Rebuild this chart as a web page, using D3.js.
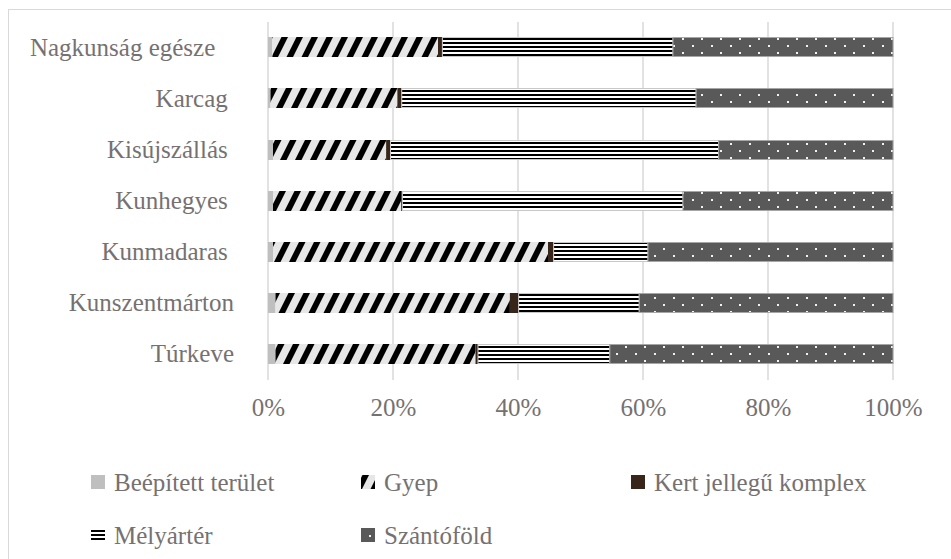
<!DOCTYPE html>
<html><head><meta charset="utf-8">
<script src="https://cdn.jsdelivr.net/npm/d3@7/dist/d3.min.js"></script>
<style>
html,body{margin:0;padding:0;background:#fff;}
text{font-family:"Liberation Serif","Times New Roman",serif;fill:#767171;}
</style></head>
<body><svg id="chart" width="951" height="559"></svg>
<script>
const categories = ["Nagkunság egésze\u00a0\u00a0\u00a0","Karcag\u00a0","Kisújszállás\u00a0","Kunhegyes\u00a0","Kunmadaras\u00a0","Kunszentmárton","Túrkeve"];
const seriesNames = ["Beépített terület","Gyep","Kert jellegű komplex","Mélyártér","Szántóföld"];
const beepitett = [0.7, 0.4, 0.8, 0.8, 0.8, 1.2, 1.2];
const gyep      = [26.5, 20.3, 18.1, 20.5, 44.0, 37.5, 32.0];
const kert      = [0.7, 0.7, 0.7, 0.2, 0.9, 1.4, 0.4];
const melyarter = [36.9, 47.1, 52.5, 44.9, 15.1, 19.3, 21.1];
const szanto    = [35.2, 31.5, 27.9, 33.6, 39.2, 40.6, 45.3];
const tickValues = [0, 0.2, 0.4, 0.6, 0.8, 1];

const svg = d3.select("#chart");
const W = 951, H = 559;
const m = {left: 268, right: 58, top: 22, bottom: 179};

// border
svg.append("rect").attr("x", 8.5).attr("y", 9.5).attr("width", 980).attr("height", 580)
  .attr("fill", "#fff").attr("stroke", "#d9d9d9").attr("stroke-width", 1);

// patterns
const defs = svg.append("defs");
const pg = defs.append("pattern").attr("id", "pGyep").attr("patternUnits", "userSpaceOnUse")
  .attr("width", 15).attr("height", 30);
pg.append("rect").attr("width", 15).attr("height", 30).attr("fill", "#e7e7e7");
[-15, 0, 15].forEach(o => {
  pg.append("polygon").attr("points", `${o},30 ${o+6.5},30 ${o+21.5},0 ${o+15},0`).attr("fill", "#000");
});
const pm = defs.append("pattern").attr("id", "pMely").attr("patternUnits", "userSpaceOnUse")
  .attr("width", 10).attr("height", 4).attr("y", 0);
pm.append("rect").attr("width", 10).attr("height", 4).attr("fill", "#fff");
pm.append("rect").attr("y", 2).attr("width", 10).attr("height", 2).attr("fill", "#000");
const ps = defs.append("pattern").attr("id", "pSzanto").attr("patternUnits", "userSpaceOnUse")
  .attr("width", 19).attr("height", 14).attr("x", 5).attr("y", 1);
ps.append("rect").attr("width", 19).attr("height", 14).attr("fill", "#595959");
ps.append("rect").attr("x", 3).attr("y", 2).attr("width", 2).attr("height", 2).attr("fill", "#f2f2f2");
ps.append("rect").attr("x", 12).attr("y", 9).attr("width", 2).attr("height", 2).attr("fill", "#f2f2f2");

const fills = ["#bfbfbf", "url(#pGyep)", "#372619", "url(#pMely)", "url(#pSzanto)"];
const strokes = ["none", "none", "none", "#c8c8c8", "#a6a6a6"];

const table = categories.map((c, i) => ({
  cat: c, s0: beepitett[i], s1: gyep[i], s2: kert[i], s3: melyarter[i], s4: szanto[i]
}));
const keys = ["s0","s1","s2","s3","s4"];
const stacked = d3.stack().keys(keys).offset(d3.stackOffsetExpand)(table);

const x = d3.scaleLinear().domain([0, 1]).range([m.left, W - m.right]);
const y = d3.scaleBand().domain(categories).range([m.top, H - m.bottom])
  .paddingInner(0.6).paddingOuter(0.3);

// gridlines
svg.append("g").selectAll("line").data(tickValues).join("line")
  .attr("x1", d => x(d)).attr("x2", d => x(d))
  .attr("y1", m.top).attr("y2", H - m.bottom)
  .attr("stroke", "#d9d9d9").attr("stroke-width", 1.5);

// bars
stacked.forEach((layer, k) => {
  svg.append("g").selectAll("rect").data(layer).join("rect")
    .attr("x", d => x(d[0])).attr("width", d => x(d[1]) - x(d[0]))
    .attr("y", d => Math.round(y(d.data.cat)) + (strokes[k] === "none" ? 0 : 0.5))
    .attr("height", Math.round(y.bandwidth()) - (strokes[k] === "none" ? 0 : 1))
    .attr("fill", fills[k])
    .attr("stroke", strokes[k]).attr("stroke-width", 1);
});

// x axis labels
const xAxis = d3.axisBottom(x).tickValues(tickValues).tickFormat(d3.format(".0%")).tickSize(0).tickPadding(18);
const gx = svg.append("g").attr("transform", `translate(0,${H - m.bottom})`).call(xAxis);
gx.select(".domain").remove();
gx.selectAll("text").attr("font-size", 25).attr("font-family", "Liberation Serif").attr("fill", "#767171");

// y axis labels
const yAxis = d3.axisLeft(y).tickSize(0).tickPadding(34);
const gy = svg.append("g").attr("transform", `translate(${m.left},0)`).call(yAxis);
gy.select(".domain").remove();
gy.selectAll("text").attr("font-size", 25).attr("font-family", "Liberation Serif").attr("fill", "#767171")
  .style("white-space", "pre");

// legend
const legendPos = [[91, 482], [361, 482], [631, 482], [91, 535], [361, 535]];
const lg = svg.append("g");
seriesNames.forEach((name, k) => {
  const [lx, ly] = legendPos[k];
  lg.append("rect").attr("x", lx).attr("y", ly - 7).attr("width", 14).attr("height", 14)
    .attr("fill", fills[k]);
  lg.append("text").attr("x", lx + 23).attr("y", ly).attr("dy", "0.35em")
    .attr("font-size", 25).text(name);
});
</script></body></html>
